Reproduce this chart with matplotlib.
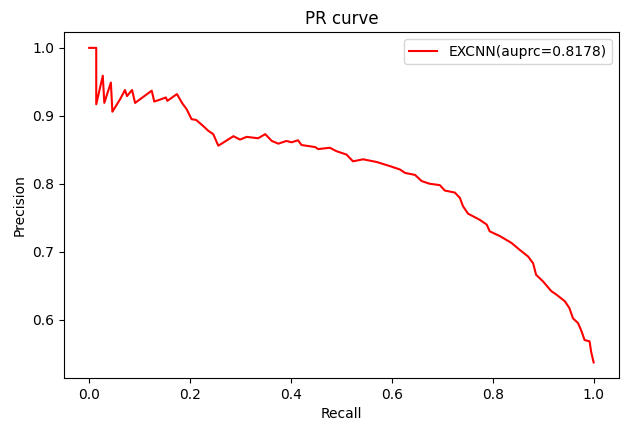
import matplotlib
matplotlib.use("Agg")
import matplotlib.pyplot as plt

# values
recall = [0.0, 0.014, 0.014, 0.027, 0.030, 0.043, 0.046, 0.061, 0.071, 0.075,
          0.085, 0.091, 0.124, 0.129, 0.141, 0.152, 0.155, 0.174, 0.184, 0.193,
          0.203, 0.212, 0.226, 0.236, 0.246, 0.256, 0.286, 0.299, 0.312, 0.335,
          0.349, 0.362, 0.375, 0.391, 0.401, 0.414, 0.421, 0.448, 0.454, 0.477,
          0.490, 0.510, 0.523, 0.543, 0.570, 0.596, 0.616, 0.626, 0.646, 0.659,
          0.675, 0.695, 0.705, 0.725, 0.735, 0.741, 0.751, 0.774, 0.788, 0.794,
          0.814, 0.837, 0.853, 0.870, 0.880, 0.886, 0.900, 0.916, 0.926, 0.943,
          0.952, 0.959, 0.969, 0.976, 0.982, 0.992, 0.995, 1.0]
precision = [1.0, 1.0, 0.917, 0.959, 0.919, 0.949, 0.906, 0.924, 0.938, 0.929,
             0.938, 0.919, 0.937, 0.921, 0.924, 0.927, 0.922, 0.932, 0.919, 0.910,
             0.895, 0.894, 0.885, 0.878, 0.873, 0.856, 0.870, 0.865, 0.869, 0.867,
             0.873, 0.863, 0.859, 0.863, 0.861, 0.864, 0.857, 0.854, 0.851, 0.853,
             0.848, 0.843, 0.833, 0.836, 0.832, 0.826, 0.821, 0.816, 0.813, 0.804,
             0.800, 0.798, 0.790, 0.787, 0.779, 0.767, 0.756, 0.747, 0.740, 0.730,
             0.723, 0.713, 0.703, 0.693, 0.683, 0.666, 0.656, 0.642, 0.637, 0.627,
             0.617, 0.602, 0.595, 0.583, 0.570, 0.568, 0.553, 0.537]
label = "EXCNN(auprc=0.8178)"

fig = plt.figure(figsize=(6.27, 4.23), dpi=100)
ax = fig.add_axes([0.102, 0.106, 0.885, 0.818])
ax.plot(recall, precision, color="red", label=label)
ax.set_xlabel("Recall")
ax.set_ylabel("Precision")
ax.set_title("PR curve")
ax.legend(loc="upper right")
fig.savefig("out.png", dpi=100)
